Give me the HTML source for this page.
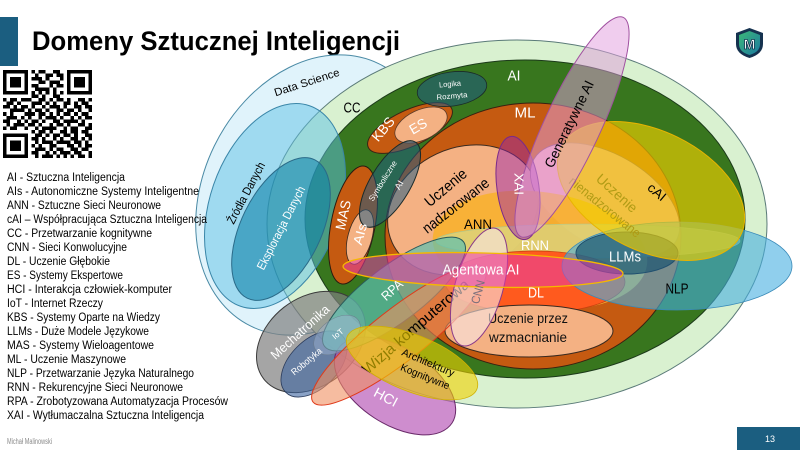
<!DOCTYPE html>
<html><head><meta charset="utf-8">
<style>
html,body{margin:0;padding:0;background:#fff;}
svg{display:block;}
text{font-family:"Liberation Sans",Arial,sans-serif;}
</style></head><body>
<svg width="800" height="450" viewBox="0 0 800 450" xmlns="http://www.w3.org/2000/svg">
<defs>
<linearGradient id="lg" x1="0" y1="0" x2="1" y2="1">
<stop offset="0" stop-color="#3cb878"/><stop offset="1" stop-color="#1c7aa0"/>
</linearGradient>
</defs>
<rect width="800" height="450" fill="#fff"/>
<rect x="0" y="17" width="18" height="49" fill="#1b5e80"/>
<text x="32" y="50" font-size="27" font-weight="bold" fill="#000" textLength="368" lengthAdjust="spacingAndGlyphs">Domeny Sztucznej Inteligencji</text>

<!-- QR -->
<svg x="3" y="70" width="89" height="88" viewBox="0 0 25 25" preserveAspectRatio="none" shape-rendering="crispEdges">
<path fill="#000" d="M0 0h7v1h-7zM8 0h1v1h-1zM10 0h2v1h-2zM14 0h2v1h-2zM18 0h7v1h-7z
M0 1h1v1h-1zM6 1h1v1h-1zM9 1h1v1h-1zM12 1h2v1h-2zM15 1h2v1h-2zM18 1h1v1h-1zM24 1h1v1h-1z
M0 2h1v1h-1zM2 2h3v1h-3zM6 2h1v1h-1zM8 2h3v1h-3zM12 2h1v1h-1zM16 2h1v1h-1zM18 2h1v1h-1zM20 2h3v1h-3zM24 2h1v1h-1z
M0 3h1v1h-1zM2 3h3v1h-3zM6 3h1v1h-1zM10 3h2v1h-2zM13 3h3v1h-3zM18 3h1v1h-1zM20 3h3v1h-3zM24 3h1v1h-1z
M0 4h1v1h-1zM2 4h3v1h-3zM6 4h1v1h-1zM8 4h2v1h-2zM13 4h1v1h-1zM15 4h2v1h-2zM18 4h1v1h-1zM20 4h3v1h-3zM24 4h1v1h-1z
M0 5h1v1h-1zM6 5h1v1h-1zM9 5h4v1h-4zM14 5h1v1h-1zM18 5h1v1h-1zM24 5h1v1h-1z
M0 6h7v1h-7zM8 6h1v1h-1zM10 6h1v1h-1zM12 6h1v1h-1zM14 6h1v1h-1zM16 6h1v1h-1zM18 6h7v1h-7z
M8 7h2v1h-2zM11 7h1v1h-1zM14 7h2v1h-2z
M0 8h1v1h-1zM2 8h2v1h-2zM5 8h3v1h-3zM10 8h2v1h-2zM13 8h1v1h-1zM15 8h2v1h-2zM18 8h1v1h-1zM21 8h2v1h-2zM24 8h1v1h-1z
M1 9h2v1h-2zM4 9h1v1h-1zM8 9h3v1h-3zM12 9h1v1h-1zM14 9h1v1h-1zM17 9h2v1h-2zM20 9h1v1h-1zM22 9h2v1h-2z
M0 10h2v1h-2zM3 10h1v1h-1zM5 10h2v1h-2zM8 10h1v1h-1zM11 10h1v1h-1zM13 10h3v1h-3zM17 10h1v1h-1zM20 10h2v1h-2zM23 10h2v1h-2z
M2 11h4v1h-4zM7 11h1v1h-1zM9 11h2v1h-2zM12 11h1v1h-1zM15 11h2v1h-2zM18 11h2v1h-2zM21 11h1v1h-1zM24 11h1v1h-1z
M0 12h1v1h-1zM2 12h1v1h-1zM6 12h3v1h-3zM10 12h2v1h-2zM13 12h1v1h-1zM15 12h1v1h-1zM17 12h2v1h-2zM20 12h1v1h-1zM22 12h2v1h-2z
M1 13h3v1h-3zM5 13h1v1h-1zM7 13h1v1h-1zM10 13h1v1h-1zM12 13h3v1h-3zM16 13h1v1h-1zM19 13h1v1h-1zM21 13h1v1h-1zM23 13h2v1h-2z
M0 14h2v1h-2zM4 14h1v1h-1zM6 14h1v1h-1zM8 14h2v1h-2zM11 14h1v1h-1zM14 14h2v1h-2zM17 14h4v1h-4zM22 14h1v1h-1z
M1 15h1v1h-1zM3 15h3v1h-3zM7 15h2v1h-2zM10 15h1v1h-1zM13 15h1v1h-1zM15 15h2v1h-2zM18 15h1v1h-1zM21 15h2v1h-2zM24 15h1v1h-1z
M0 16h1v1h-1zM2 16h2v1h-2zM6 16h1v1h-1zM9 16h1v1h-1zM11 16h4v1h-4zM17 16h1v1h-1zM19 16h2v1h-2zM23 16h2v1h-2z
M8 17h1v1h-1zM10 17h2v1h-2zM13 17h1v1h-1zM16 17h2v1h-2zM19 17h2v1h-2zM22 17h2v1h-2z
M0 18h7v1h-7zM9 18h2v1h-2zM12 18h1v1h-1zM14 18h2v1h-2zM17 18h2v1h-2zM20 18h1v1h-1zM23 18h2v1h-2z
M0 19h1v1h-1zM6 19h1v1h-1zM8 19h2v1h-2zM11 19h1v1h-1zM14 19h1v1h-1zM16 19h1v1h-1zM19 19h2v1h-2zM22 19h1v1h-1zM24 19h1v1h-1z
M0 20h1v1h-1zM2 20h3v1h-3zM6 20h1v1h-1zM9 20h1v1h-1zM11 20h3v1h-3zM15 20h4v1h-4zM20 20h2v1h-2zM23 20h1v1h-1z
M0 21h1v1h-1zM2 21h3v1h-3zM6 21h1v1h-1zM8 21h1v1h-1zM10 21h1v1h-1zM13 21h2v1h-2zM18 21h2v1h-2zM21 21h1v1h-1zM23 21h2v1h-2z
M0 22h1v1h-1zM2 22h3v1h-3zM6 22h1v1h-1zM9 22h3v1h-3zM13 22h1v1h-1zM15 22h2v1h-2zM19 22h2v1h-2zM22 22h2v1h-2z
M0 23h1v1h-1zM6 23h1v1h-1zM8 23h2v1h-2zM12 23h1v1h-1zM14 23h1v1h-1zM16 23h3v1h-3zM20 23h2v1h-2zM24 23h1v1h-1z
M0 24h7v1h-7zM9 24h1v1h-1zM11 24h3v1h-3zM15 24h1v1h-1zM17 24h1v1h-1zM19 24h1v1h-1zM21 24h2v1h-2zM24 24h1v1h-1z"/>
</svg>

<!-- Footer -->
<text x="7" y="444" font-size="8" fill="#8a8a8a" textLength="45" lengthAdjust="spacingAndGlyphs">Michał Malinowski</text>
<rect x="737" y="427" width="63" height="23" fill="#1b5e80"/>
<text x="770" y="442" font-size="9" fill="#fff" text-anchor="middle">13</text>

<!-- Logo -->
<g transform="translate(736,28)">
<path d="M13.5 0 L27 5 L27 16 Q27 26 13.5 30 Q0 26 0 16 L0 5 Z" fill="#15324f"/>
<path d="M13.5 3 L24 7 L24 16 Q24 24 13.5 27 Q3 24 3 16 L3 7 Z" fill="url(#lg)"/>
<text x="13.5" y="21" font-size="14" font-weight="bold" fill="#fff" stroke="#15324f" stroke-width="0.8" text-anchor="middle">M</text>
</g>

<!-- Diagram -->
<ellipse cx="315" cy="195" rx="146" ry="112" transform="rotate(-64 315 195)" fill="#e0f3fb" stroke="#4a8aa5" stroke-width="1"/>
<ellipse cx="517" cy="224" rx="250" ry="184" fill="#d9f1d0" stroke="#5a7a78" stroke-width="1"/>
<ellipse cx="525" cy="219" rx="220" ry="159" fill="#38761e" stroke="#1c3a1a" stroke-width="1"/>
<ellipse cx="275" cy="206" rx="106" ry="65" transform="rotate(-71 275 206)" fill="#5dc1e5" fill-opacity="0.5" stroke="#3a86a8" stroke-width="1"/>
<ellipse cx="281" cy="229" rx="77" ry="40" transform="rotate(-64 281 229)" fill="#1183aa" fill-opacity="0.6" stroke="#2a6a88" stroke-width="1"/>

<ellipse cx="533" cy="236" rx="148" ry="133" fill="#c55a11" stroke="#3a2010" stroke-width="1"/>
<ellipse cx="410" cy="128" rx="46" ry="18" transform="rotate(-25 410 128)" fill="#c55a11" stroke="#3a2414" stroke-width="1"/>
<ellipse cx="421" cy="125" rx="28" ry="15" transform="rotate(-25 421 125)" fill="#f4b183" stroke="#5a3a2a" stroke-width="0.8"/>
<ellipse cx="452" cy="89" rx="35" ry="17" transform="rotate(-8 452 89)" fill="#1d5a84" fill-opacity="0.55" stroke="#1a2a2a" stroke-width="0.8"/>

<ellipse cx="353" cy="225" rx="22" ry="60" transform="rotate(11 353 225)" fill="#c55a11" stroke="#2a1a10" stroke-width="1"/>
<ellipse cx="360" cy="237" rx="12" ry="28" transform="rotate(15 360 237)" fill="#f4b183" stroke="#3a2a20" stroke-width="0.8"/>

<ellipse cx="463" cy="210" rx="78" ry="62" transform="rotate(-25 463 210)" fill="#f4b183" stroke="#3a2a20" stroke-width="1"/>
<ellipse cx="605" cy="200" rx="82" ry="46" transform="rotate(30 605 200)" fill="#f2a7b5" stroke="#8a4a6a" stroke-width="0.8"/>

<ellipse cx="540" cy="250" rx="108" ry="58" transform="rotate(8 540 250)" fill="#f8b133" fill-opacity="0.95"/>
<ellipse cx="588" cy="241" rx="152" ry="17" fill="#cde6a0" fill-opacity="0.55" stroke="#a8c890" stroke-width="0.6"/>
<ellipse cx="518" cy="188" rx="21" ry="52" transform="rotate(-8 518 188)" fill="#9720b3" fill-opacity="0.45" stroke="#7a2a8a" stroke-width="1"/>

<ellipse cx="535" cy="282" rx="90" ry="31" fill="#ff5a1e" stroke="#c84010" stroke-width="0.8"/>
<ellipse cx="529" cy="331" rx="84" ry="26" fill="#f4b183" stroke="#3a2a20" stroke-width="1"/>
<text x="528" y="318" font-size="14" fill="#111" text-anchor="middle" dominant-baseline="central" textLength="80" lengthAdjust="spacingAndGlyphs">Uczenie przez</text>
<text x="528" y="337" font-size="14" fill="#111" text-anchor="middle" dominant-baseline="central" textLength="78" lengthAdjust="spacingAndGlyphs">wzmacnianie</text>

<ellipse cx="677" cy="266" rx="115" ry="44" fill="#46afe1" fill-opacity="0.6" stroke="#3a8ab8" stroke-width="0.8"/>
<ellipse cx="627" cy="253" rx="51" ry="21" fill="#14506e" fill-opacity="0.65" stroke="#1f4f6f" stroke-width="1"/>

<text x="617" y="193" font-size="14" fill="#3a3a3a" text-anchor="middle" dominant-baseline="central" transform="rotate(42 617 193)" textLength="50" lengthAdjust="spacingAndGlyphs">Uczenie</text>
<text x="605" y="207" font-size="13" fill="#3a3a3a" text-anchor="middle" dominant-baseline="central" transform="rotate(39 605 207)" textLength="88" lengthAdjust="spacingAndGlyphs">nienadzorowane</text>

<ellipse cx="651" cy="191" rx="100" ry="60" transform="rotate(26 651 191)" fill="#f0d000" fill-opacity="0.65" stroke="#e8b400" stroke-width="1"/>
<ellipse cx="572" cy="127" rx="121" ry="28" transform="rotate(-65 572 127)" fill="#e19dde" fill-opacity="0.51" stroke="#a050a0" stroke-width="1"/>
<ellipse cx="390" cy="184" rx="20" ry="49" transform="rotate(31 390 184)" fill="#1d5a84" fill-opacity="0.52" stroke="#1a2a2a" stroke-width="1"/>

<ellipse cx="311" cy="342" rx="60" ry="44" transform="rotate(-38 311 342)" fill="#7f7f7f" fill-opacity="0.7" stroke="#3a3a3a" stroke-width="1"/>
<ellipse cx="314" cy="364" rx="40" ry="24" transform="rotate(-45 314 364)" fill="#3c64a0" fill-opacity="0.6" stroke="#2a3a5a" stroke-width="0.8"/>
<ellipse cx="395" cy="386" rx="68" ry="38" transform="rotate(33 395 386)" fill="#b450b4" fill-opacity="0.65" stroke="#6a2a6a" stroke-width="1"/>
<ellipse cx="394" cy="294" rx="87" ry="28" transform="rotate(-37 394 294)" fill="#5cc0b0" fill-opacity="0.7" stroke="#2a5a5a" stroke-width="1"/>
<ellipse cx="337" cy="335" rx="26" ry="16" transform="rotate(-35 337 335)" fill="#a0b4d0" fill-opacity="0.45" stroke="#6a7a8a" stroke-width="0.5"/>

<ellipse cx="399" cy="335" rx="109" ry="26" transform="rotate(-38 399 335)" fill="#f09060" fill-opacity="0.6" stroke="#e03a1a" stroke-width="1"/>
<text x="416" y="327" font-size="15" fill="#000" text-anchor="middle" dominant-baseline="central" transform="rotate(-40.8 416 327)" textLength="136" lengthAdjust="spacingAndGlyphs">Wizja komputerowa</text>

<ellipse cx="412" cy="363" rx="70" ry="28" transform="rotate(22 412 363)" fill="#f0d200" fill-opacity="0.6" stroke="#d0b000" stroke-width="0.8"/>
<ellipse cx="479" cy="287" rx="24" ry="61" transform="rotate(16 479 287)" fill="#f8e6e6" fill-opacity="0.6" stroke="#8a3a8a" stroke-width="1"/>
<ellipse cx="483" cy="270" rx="140" ry="17" transform="rotate(1.5 483 270)" fill="#e63caa" fill-opacity="0.55" stroke="#f5b800" stroke-width="1.3"/>

<!-- Labels -->
<g text-anchor="middle" dominant-baseline="central">
<text x="307" y="83" font-size="11" fill="#000" transform="rotate(-18 307 83)" textLength="68" lengthAdjust="spacingAndGlyphs">Data Science</text>
<text x="352" y="108" font-size="15" fill="#000" textLength="17" lengthAdjust="spacingAndGlyphs">CC</text>
<text x="246" y="193" font-size="12" fill="#000" transform="rotate(-62 246 193)" textLength="68" lengthAdjust="spacingAndGlyphs">Źródła Danych</text>
<text x="281" y="228" font-size="12" fill="#fff" transform="rotate(-63 281 228)" textLength="92" lengthAdjust="spacingAndGlyphs">Eksploracja Danych</text>
<text x="514" y="76" font-size="15" fill="#fff" textLength="13" lengthAdjust="spacingAndGlyphs">AI</text>
<text x="525" y="113" font-size="15" fill="#fff" textLength="21" lengthAdjust="spacingAndGlyphs">ML</text>
<text x="383" y="129" font-size="14" fill="#fff" transform="rotate(-50 383 129)" textLength="27" lengthAdjust="spacingAndGlyphs">KBS</text>
<text x="418" y="126" font-size="14" fill="#fff" transform="rotate(-30 418 126)" textLength="18" lengthAdjust="spacingAndGlyphs">ES</text>
<text x="450" y="84" font-size="7.5" fill="#fff" transform="rotate(-5 450 84)" textLength="22" lengthAdjust="spacingAndGlyphs">Logika</text>
<text x="452" y="96" font-size="7.5" fill="#fff" transform="rotate(-5 452 96)" textLength="31" lengthAdjust="spacingAndGlyphs">Rozmyta</text>
<text x="383" y="181" font-size="8" fill="#fff" transform="rotate(-58 383 181)" textLength="46" lengthAdjust="spacingAndGlyphs">Symboliczne</text>
<text x="399" y="185" font-size="9" fill="#fff" transform="rotate(-60 399 185)" textLength="9" lengthAdjust="spacingAndGlyphs">AI</text>
<text x="343" y="215" font-size="14" fill="#fff" transform="rotate(-78 343 215)" textLength="30" lengthAdjust="spacingAndGlyphs">MAS</text>
<text x="360" y="234" font-size="13" fill="#fff" transform="rotate(-75 360 234)" textLength="22" lengthAdjust="spacingAndGlyphs">AIs</text>
<text x="446" y="188" font-size="15" fill="#000" transform="rotate(-40 446 188)" textLength="50" lengthAdjust="spacingAndGlyphs">Uczenie</text>
<text x="456" y="206" font-size="15" fill="#000" transform="rotate(-38 456 206)" textLength="80" lengthAdjust="spacingAndGlyphs">nadzorowane</text>
<text x="519" y="184" font-size="13" fill="#fff" transform="rotate(90 519 184)" textLength="22" lengthAdjust="spacingAndGlyphs">XAI</text>
<text x="569" y="124" font-size="14" fill="#000" transform="rotate(-64 569 124)" textLength="95" lengthAdjust="spacingAndGlyphs">Generatywne AI</text>
<text x="657" y="192" font-size="13" fill="#000" transform="rotate(40 657 192)" textLength="20" lengthAdjust="spacingAndGlyphs">cAI</text>
<text x="478" y="224" font-size="14" fill="#000" textLength="28" lengthAdjust="spacingAndGlyphs">ANN</text>
<text x="535" y="245" font-size="14" fill="#fff" textLength="28" lengthAdjust="spacingAndGlyphs">RNN</text>
<text x="481" y="270" font-size="15" fill="#fff" textLength="77" lengthAdjust="spacingAndGlyphs">Agentowa AI</text>
<text x="536" y="293" font-size="15" fill="#fff" textLength="16" lengthAdjust="spacingAndGlyphs">DL</text>
<text x="478" y="292" font-size="12" fill="#7a6f7a" transform="rotate(-75 478 292)" textLength="24" lengthAdjust="spacingAndGlyphs">CNN</text>
<text x="625" y="257" font-size="15" fill="#fff" textLength="32" lengthAdjust="spacingAndGlyphs">LLMs</text>
<text x="677" y="289" font-size="15" fill="#000" textLength="23" lengthAdjust="spacingAndGlyphs">NLP</text>
<text x="392" y="290" font-size="13" fill="#fff" transform="rotate(-42 392 290)" textLength="24" lengthAdjust="spacingAndGlyphs">RPA</text>
<text x="338" y="334" font-size="8" fill="#fff" transform="rotate(-40 338 334)" textLength="12" lengthAdjust="spacingAndGlyphs">IoT</text>
<text x="300" y="332" font-size="13" fill="#fff" transform="rotate(-42 300 332)" textLength="74" lengthAdjust="spacingAndGlyphs">Mechatronika</text>
<text x="307" y="362" font-size="9.5" fill="#fff" transform="rotate(-40 307 362)" textLength="37" lengthAdjust="spacingAndGlyphs">Robotyka</text>
<text x="386" y="397" font-size="14" fill="#fff" transform="rotate(28 386 397)" textLength="25" lengthAdjust="spacingAndGlyphs">HCI</text>
<text x="428" y="363" font-size="10.5" fill="#000" transform="rotate(23 428 363)" textLength="56" lengthAdjust="spacingAndGlyphs">Architektury</text>
<text x="425" y="377" font-size="10.5" fill="#000" transform="rotate(22 425 377)" textLength="52" lengthAdjust="spacingAndGlyphs">Kognitywne</text>
</g>

<!-- Legend (on top of diagram) -->
<g font-size="11.5" fill="#000">
<text x="7" y="181" textLength="118" lengthAdjust="spacingAndGlyphs">AI - Sztuczna Inteligencja</text>
<text x="7" y="195" textLength="192" lengthAdjust="spacingAndGlyphs">AIs - Autonomiczne Systemy Inteligentne</text>
<text x="7" y="209" textLength="154" lengthAdjust="spacingAndGlyphs">ANN - Sztuczne Sieci Neuronowe</text>
<text x="7" y="223" textLength="200" lengthAdjust="spacingAndGlyphs">cAI – Współpracująca Sztuczna Inteligencja</text>
<text x="7" y="237" textLength="145" lengthAdjust="spacingAndGlyphs">CC - Przetwarzanie kognitywne</text>
<text x="7" y="251" textLength="120" lengthAdjust="spacingAndGlyphs">CNN - Sieci Konwolucyjne</text>
<text x="7" y="265" textLength="103" lengthAdjust="spacingAndGlyphs">DL - Uczenie Głębokie</text>
<text x="7" y="279" textLength="116" lengthAdjust="spacingAndGlyphs">ES - Systemy Ekspertowe</text>
<text x="7" y="293" textLength="165" lengthAdjust="spacingAndGlyphs">HCI - Interakcja człowiek-komputer</text>
<text x="7" y="307" textLength="96" lengthAdjust="spacingAndGlyphs">IoT - Internet Rzeczy</text>
<text x="7" y="321" textLength="153" lengthAdjust="spacingAndGlyphs">KBS - Systemy Oparte na Wiedzy</text>
<text x="7" y="335" textLength="142" lengthAdjust="spacingAndGlyphs">LLMs - Duże Modele Językowe</text>
<text x="7" y="349" textLength="147" lengthAdjust="spacingAndGlyphs">MAS - Systemy Wieloagentowe</text>
<text x="7" y="363" textLength="119" lengthAdjust="spacingAndGlyphs">ML - Uczenie Maszynowe</text>
<text x="7" y="377" textLength="187" lengthAdjust="spacingAndGlyphs">NLP - Przetwarzanie Języka Naturalnego</text>
<text x="7" y="391" textLength="176" lengthAdjust="spacingAndGlyphs">RNN - Rekurencyjne Sieci Neuronowe</text>
<text x="7" y="405" textLength="221" lengthAdjust="spacingAndGlyphs">RPA - Zrobotyzowana Automatyzacja Procesów</text>
<text x="7" y="419" textLength="197" lengthAdjust="spacingAndGlyphs">XAI - Wytłumaczalna Sztuczna Inteligencja</text>
</g>
</svg>
</body></html>
